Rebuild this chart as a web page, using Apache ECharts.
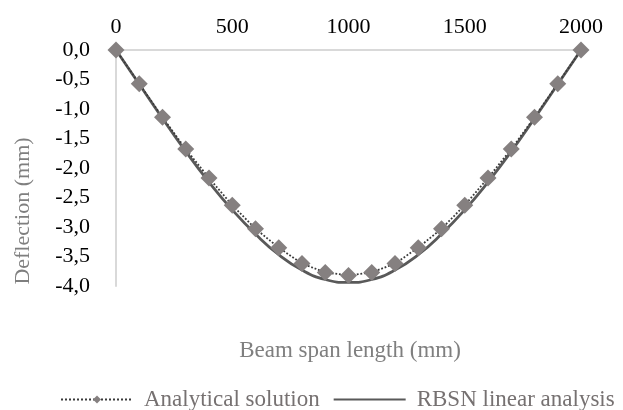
<!DOCTYPE html>
<html>
<head>
<meta charset="utf-8">
<script src="https://cdn.jsdelivr.net/npm/echarts@6/dist/echarts.min.js"></script>
<style>html,body{margin:0;padding:0;background:#fff;}#c{width:623px;height:410px;}</style>
</head>
<body>
<div id="c"></div>
<script>
var spanX = [0,100,200,300,400,500,600,700,800,900,1000,1100,1200,1300,1400,1500,1600,1700,1800,1900,2000];
var analytical = [0,-0.57,-1.14,-1.68,-2.17,-2.63,-3.03,-3.35,-3.62,-3.77,-3.82,-3.77,-3.62,-3.35,-3.03,-2.63,-2.17,-1.68,-1.14,-0.57,0];
var rbsn = [0,-0.58,-1.16,-1.72,-2.24,-2.71,-3.12,-3.47,-3.73,-3.89,-3.94,-3.89,-3.73,-3.47,-3.12,-2.71,-2.24,-1.72,-1.16,-0.58,0];
var xTicks = [0,500,1000,1500,2000];
var yTicks = [0,-0.5,-1,-1.5,-2,-2.5,-3,-3.5,-4];

var FONT = 'Liberation Serif';
function pairs(xs, ys){ return xs.map(function(x,i){ return [x, ys[i]]; }); }

var chart = echarts.init(document.getElementById('c'));
chart.setOption({
  animation: false,
  backgroundColor: '#fff',
  grid: {left:116, right:42, top:50, bottom:124},
  xAxis: {
    type:'value', position:'top', min:xTicks[0], max:xTicks[xTicks.length-1], interval:500,
    axisLine:{show:true, lineStyle:{color:'#d9d9d9', width:2}},
    axisTick:{show:false}, splitLine:{show:false},
    axisLabel:{color:'#000', fontFamily:FONT, fontSize:22, margin:12,
      formatter:function(v){ return String(v); }}
  },
  yAxis: {
    type:'value', min:yTicks[yTicks.length-1], max:yTicks[0], interval:0.5,
    axisLine:{show:true, lineStyle:{color:'#d9d9d9', width:2}},
    axisTick:{show:false}, splitLine:{show:false},
    axisLabel:{color:'#000', fontFamily:FONT, fontSize:22, margin:26,
      formatter:function(v){ return v.toFixed(1).replace('.', ','); }}
  },
  legend: {
    left:55, top:383, itemWidth:72, itemHeight:10, itemGap:13,
    data:[
      {name:'Analytical solution'},
      {name:'RBSN linear analysis', itemStyle:{opacity:0}}
    ],
    textStyle:{color:'#767171', fontFamily:FONT, fontSize:23, padding:[0,0,0,6]}
  },
  graphic: [
    {type:'text', x:23, y:211, rotation:Math.PI/2, style:{text:'Deflection (mm)', fill:'#7f7f7f', font:'22px "Liberation Serif"', textAlign:'center', textVerticalAlign:'middle'}},
    {type:'text', x:350, y:351, style:{text:'Beam span length (mm)', fill:'#7f7f7f', font:'23px "Liberation Serif"', textAlign:'center', textVerticalAlign:'middle'}}
  ],
  series: [
    {
      name:'RBSN linear analysis', type:'line', smooth:true, showSymbol:false, symbol:'none',
      data:pairs(spanX, rbsn), z:2,
      lineStyle:{color:'#595959', width:2.8}, itemStyle:{color:'#595959'}
    },
    {
      name:'Analytical solution', type:'line', symbol:'diamond', symbolSize:17,
      data:pairs(spanX, analytical), z:3,
      lineStyle:{color:'#3a3a3a', width:1.8, type:'dotted'},
      itemStyle:{color:'#858080'}
    }
  ]
});
</script>
</body>
</html>
